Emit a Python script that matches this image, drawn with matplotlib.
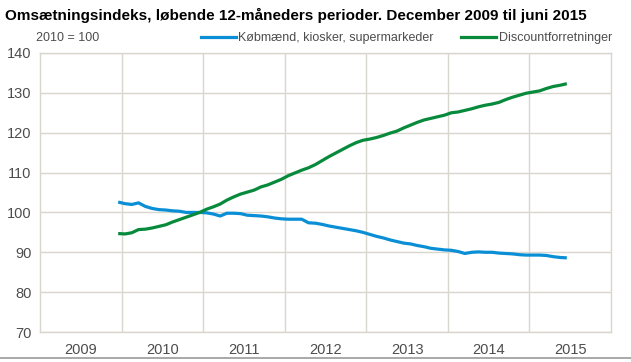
import numpy as np
import matplotlib
matplotlib.use("Agg")
import matplotlib.pyplot as plt
from matplotlib.lines import Line2D

plt.rcParams['font.family'] = ['Liberation Sans Narrow', 'Liberation Sans', 'DejaVu Sans']

title = "Omsætningsindeks, løbende 12-måneders perioder. December 2009 til juni 2015"
unit_note = "2010 = 100"
series_names = ["Købmænd, kiosker, supermarkeder", "Discountforretninger"]
years = [2009, 2010, 2011, 2012, 2013, 2014, 2015]
yticks = [70, 80, 90, 100, 110, 120, 130, 140]

# Monthly values, Dec 2009 .. Jun 2015
kobmaend = [102.6,
            102.2, 102.0, 102.4, 101.5, 101.0, 100.7, 100.6, 100.4, 100.3, 100.0, 100.0, 100.0,
            99.9, 99.6, 99.1, 99.8, 99.8, 99.7, 99.3, 99.2, 99.1, 98.9, 98.6, 98.4,
            98.3, 98.3, 98.3, 97.4, 97.3, 97.0, 96.6, 96.3, 96.0, 95.7, 95.4, 95.0,
            94.5, 94.0, 93.6, 93.1, 92.7, 92.3, 92.1, 91.7, 91.4, 91.0, 90.8, 90.6,
            90.5, 90.2, 89.7, 90.0, 90.1, 90.0, 90.0, 89.8, 89.7, 89.6, 89.4, 89.3,
            89.3, 89.3, 89.2, 88.9, 88.7, 88.6]
discount = [94.7,
            94.6, 94.9, 95.7, 95.8, 96.1, 96.5, 96.9, 97.6, 98.2, 98.8, 99.4, 100.0,
            100.8, 101.4, 102.1, 103.1, 103.9, 104.6, 105.1, 105.6, 106.4, 106.9, 107.6, 108.3,
            109.2, 109.9, 110.6, 111.2, 112.0, 113.0, 114.0, 114.9, 115.8, 116.7, 117.5, 118.1,
            118.4, 118.8, 119.3, 119.9, 120.4, 121.2, 121.9, 122.6, 123.2, 123.6, 124.0, 124.4,
            125.0, 125.2, 125.6, 126.0, 126.5, 126.9, 127.2, 127.6, 128.3, 128.9, 129.4, 129.9,
            130.2, 130.5, 131.1, 131.6, 131.9, 132.3]

# x positions: month centres starting December 2009
n = len(kobmaend)
months = [(2009, 12)] + [(y, m) for y in range(2010, 2016) for m in range(1, 13)]
months = months[:n]
x = np.array([yy + (mm - 0.5) / 12 for yy, mm in months])

blue = "#0a8fd6"
green = "#078a3c"
grid_c = "#d9d6ce"
txt_c = "#4d4d4d"

fig = plt.figure(figsize=(6.31, 3.62), dpi=100)
ax = fig.add_axes([40/631, 1-332/362, (611-40)/631, (332-53)/362])

ax.plot(x, kobmaend, color=blue, lw=2.3, solid_capstyle='butt', label=series_names[0])
ax.plot(x, discount, color=green, lw=2.3, solid_capstyle='butt', label=series_names[1])

ax.set_xlim(years[0], years[-1] + 1)
ax.set_ylim(70, 140)
ax.set_yticks(yticks)
ax.set_xticks([y + 0.5 for y in years])
ax.set_xticklabels([str(y) for y in years])
ax.grid(False)
for yv in yticks:
    ax.axhline(yv, color=grid_c, lw=1.0, zorder=0)
for xv in range(years[0] + 1, years[-1] + 1):
    ax.axvline(xv, color=grid_c, lw=1.0, zorder=0)
ax.tick_params(axis='both', which='both', length=0, labelsize=10.5, colors=txt_c, pad=6)
ax.tick_params(axis='x', pad=8)
for s in ax.spines.values():
    s.set_color(grid_c)
    s.set_linewidth(1.0)

fig.text(5/631, 1-15/362, title, fontsize=11, fontweight='bold',
         family=['Liberation Sans', 'DejaVu Sans'], color='black', va='center', ha='left')
fig.text(36/631, 1-38/362, unit_note, fontsize=9, color=txt_c, va='center', ha='left')

handles = [Line2D([], [], color=blue, lw=2.3), Line2D([], [], color=green, lw=2.3)]
leg = fig.legend(handles, series_names, loc='center right', bbox_to_anchor=(612/631, 1-38/362),
                 ncol=2, frameon=False, fontsize=9, handlelength=2.8, handletextpad=0.2,
                 columnspacing=2.2, borderaxespad=0, borderpad=0)
for t in leg.get_texts():
    t.set_color(txt_c)

fig.add_artist(Line2D([0, 1], [1-358/362, 1-358/362], color='#9a9a9a', lw=1.2,
                      transform=fig.transFigure))

fig.savefig("out.png", dpi=100)
